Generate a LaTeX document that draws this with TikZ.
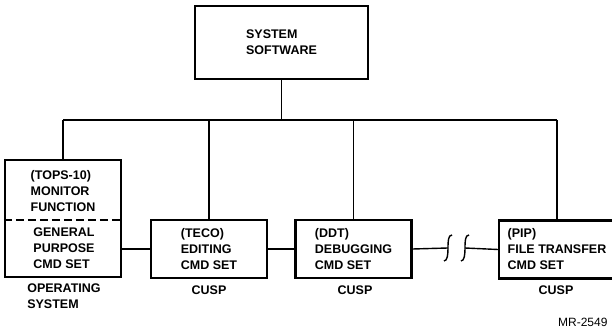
\documentclass[tikz,border=0pt]{standalone}
\usepackage{fontspec}
\setmainfont{Liberation Sans}
\usetikzlibrary{positioning}

\begin{document}
\begin{tikzpicture}[x=1pt, y=1pt,
  box/.style={draw, line width=2.4pt, minimum width=116pt, minimum height=58pt,
              align=left, font=\fontsize{12.5}{16}\selectfont\bfseries},
  lbl/.style={align=left, font=\fontsize{12.5}{16}\selectfont\bfseries},
  link/.style={line width=1.4pt},
  brk/.style={line width=1.4pt},
]
  \useasboundingbox (0,0) rectangle (612,328);

  \node[box, minimum width=173pt, minimum height=73pt] (sys) at (281.5,285.5) {SYSTEM\\SOFTWARE};

  % operating system box, split in two
  \node[box, minimum height=117pt] (os) at (63,109.5) {};
  \node[lbl] (mon) at (63,137) {(TOPS-10)\\MONITOR\\FUNCTION};
  \node[lbl] (gp) at (64,80) {GENERAL\\PURPOSE\\CMD SET};
  \coordinate (split) at (0,108);
  \draw[line width=1.8pt, dash pattern=on 8pt off 4pt] (os.west |- split) -- (os.east |- split);

  \node[box] (teco) at (209,79) {(TECO)\\EDITING\\CMD SET};
  \node[box] (ddt) at (353.5,79) {(DDT)\\DEBUGGING\\CMD SET};
  \node[box] (pip) at (557,78.5) {(PIP)\\FILE TRANSFER\\CMD SET};

  \node[lbl] (oslbl) at (64,32) {OPERATING\\SYSTEM};
  \node[lbl] (tecolbl) at (209,38) {CUSP};
  \node[lbl] (ddtlbl) at (355,38) {CUSP};
  \node[lbl] (piplbl) at (556,38) {CUSP};
  \node[anchor=east, font=\fontsize{12}{14}\selectfont] (mr) at (611,6) {MR-2549};

  % tree
  \coordinate (bus) at (0,208);
  \draw[link] (sys.south) -- (sys.south |- bus);
  \draw[link] (os.north |- bus) -- (pip.north |- bus);
  \foreach \n in {os,teco,ddt,pip}
    \draw[link] (\n.north |- bus) -- (\n.north);

  % chain along the bottom
  \draw[link] (os.east |- teco.west) -- (teco.west);
  \draw[link] (teco) -- (ddt);
  \coordinate (brkl) at (448,80);
  \coordinate (brkr) at (465,80);
  \draw[link] (ddt.east) -- (brkl);
  \draw[link] (brkr) -- (pip.west);
  \foreach \c in {brkl,brkr}
    \draw[brk] ([shift={(4,13)}]\c) .. controls ([shift={(0,13)}]\c) and ([shift={(0,6)}]\c) .. (\c)
               .. controls ([shift={(0,-6)}]\c) and ([shift={(-0.5,-13)}]\c) .. ([shift={(-4,-13)}]\c);
\end{tikzpicture}
\end{document}
